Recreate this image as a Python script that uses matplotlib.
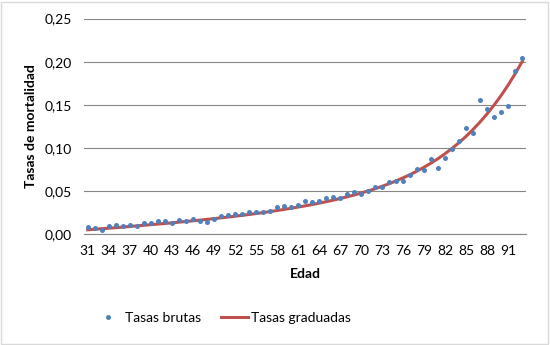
import numpy as np
import matplotlib
matplotlib.use("Agg")
import matplotlib.pyplot as plt
from matplotlib.patches import Rectangle
from matplotlib.lines import Line2D

plt.rcParams['font.family'] = ['Lato', 'DejaVu Sans']

ages = list(range(31, 94))

# tasas brutas
raw_rates = [0.0081, 0.0076, 0.0053, 0.0093, 0.0111, 0.0100, 0.0104, 0.0100, 0.0131, 0.0131,
             0.0154, 0.0154, 0.0127, 0.0160, 0.0148, 0.0177, 0.0157, 0.0142, 0.0177, 0.0212,
             0.0223, 0.0231, 0.0235, 0.0255, 0.0258, 0.0255, 0.0273, 0.0316, 0.0328, 0.0313,
             0.0339, 0.0385, 0.0374, 0.0385, 0.0420, 0.0432, 0.0420, 0.0466, 0.0490, 0.0464,
             0.0505, 0.0545, 0.0544, 0.0605, 0.0620, 0.0620, 0.0683, 0.0756, 0.0744, 0.0872,
             0.0771, 0.0887, 0.0987, 0.1076, 0.1227, 0.1176, 0.1554, 0.1454, 0.1354, 0.1415,
             0.1485, 0.1898, 0.2049]

# tasas graduadas (smooth curve)
fit_rates = [0.0052, 0.0058, 0.0064, 0.0070, 0.0076, 0.0083, 0.0090, 0.0097, 0.0104, 0.0111,
             0.0118, 0.0125, 0.0132, 0.0140, 0.0148, 0.0156, 0.0164, 0.0172, 0.0181, 0.0190,
             0.0199, 0.0209, 0.0219, 0.0229, 0.0240, 0.0251, 0.0263, 0.0275, 0.0288, 0.0301,
             0.0315, 0.0329, 0.0344, 0.0360, 0.0377, 0.0395, 0.0414, 0.0434, 0.0455, 0.0478,
             0.0502, 0.0528, 0.0556, 0.0586, 0.0619, 0.0654, 0.0692, 0.0733, 0.0778, 0.0826,
             0.0878, 0.0935, 0.0997, 0.1064, 0.1137, 0.1217, 0.1304, 0.1398, 0.1500, 0.1611,
             0.1732, 0.1864, 0.2005]

blue = '#4F81BD'
red = '#C0504D'
grid_col = '#868686'

fig = plt.figure(figsize=(5.5, 3.45), dpi=100)
ax = fig.add_axes([0.153, 0.321, 0.803, 0.625])

pos = np.arange(len(ages))
ax.plot(pos, fit_rates, color=red, lw=2.2, zorder=2)
ax.plot(pos, raw_rates, 'o', color=blue, ms=3.6, mec='none', zorder=3)

ax.set_xlim(-0.5, len(ages) - 0.5)
ax.set_ylim(0, 0.25)
ax.set_yticks(np.arange(0, 0.26, 0.05))
ax.yaxis.set_major_formatter(lambda v, p: f"{v:.2f}".replace('.', ','))
ax.set_xticks(pos[::3])
ax.set_xticklabels([str(a) for a in ages[::3]])
ax.tick_params(length=0, labelsize=10, colors='#000000')
ax.tick_params(axis='x', pad=8)
ax.tick_params(axis='y', pad=9)

ax.grid(axis='y', color=grid_col, lw=0.8)
ax.set_axisbelow(True)
for s in ['top', 'right', 'left']:
    ax.spines[s].set_visible(False)
ax.spines['bottom'].set_color(grid_col)
ax.spines['bottom'].set_linewidth(0.8)

ax.set_xlabel('Edad', fontsize=10, fontweight='bold', labelpad=8)
ax.set_ylabel('Tasas de mortalidad', fontsize=10, fontweight='bold', labelpad=5)

handles = [Line2D([], [], marker='o', ls='none', color=blue, ms=3.6, mec='none'),
           Line2D([], [], color=red, lw=2.2)]
fig.legend(handles, ['Tasas brutas', 'Tasas graduadas'], loc='center',
           bbox_to_anchor=(0.405, 0.078), ncol=2, frameon=False, fontsize=10,
           handlelength=2.0, columnspacing=1.4, handletextpad=0.2)

fig.patches.append(Rectangle((0.002, 0.003), 0.994, 0.992, transform=fig.transFigure,
                             fill=False, edgecolor='#D9D9D9', lw=1))

fig.savefig('out.png', dpi=100)
